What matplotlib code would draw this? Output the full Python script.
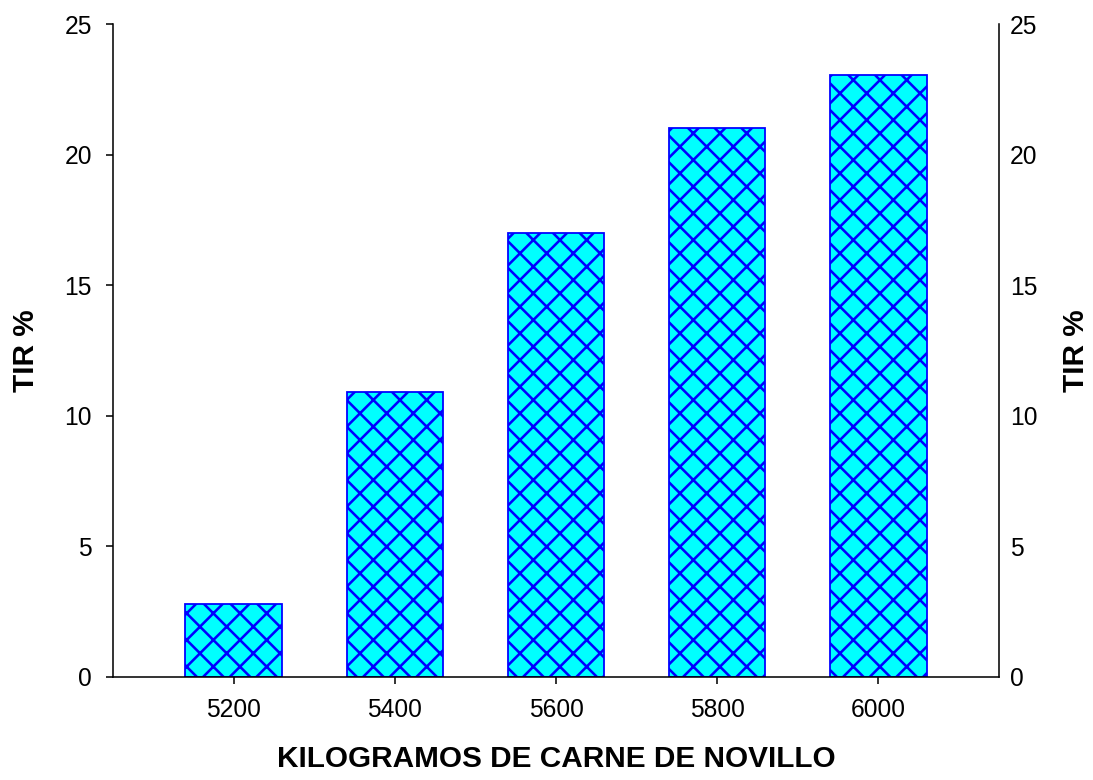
import matplotlib
matplotlib.use("Agg")
import matplotlib.pyplot as plt

# Data
categories = [5200, 5400, 5600, 5800, 6000]
tir_values = [2.8, 10.9, 17.0, 21.0, 23.05]
y_ticks = [0, 5, 10, 15, 20, 25]
x_label = "KILOGRAMOS DE CARNE DE NOVILLO"
y_label = "TIR %"

DPI = 160
plt.rcParams['font.family'] = ['Liberation Sans', 'DejaVu Sans']
plt.rcParams['hatch.linewidth'] = 1.15
plt.rcParams['hatch.color'] = '#0000ff'

fig = plt.figure(figsize=(1093 / DPI, 780 / DPI), dpi=DPI)
ax = fig.add_axes([113 / 1093, 1 - 677 / 780, 886 / 1093, 653 / 780])

ax.bar(categories, tir_values, width=120, color='#00ffff', edgecolor='#0000ff',
       linewidth=0.8, hatch='xx', zorder=2)

ax.set_xlim(5050, 6150)
ax.set_ylim(0, 25)
ax.set_xticks(categories)
ax.set_xticklabels([str(c) for c in categories])
ax.set_yticks(y_ticks)
ax.spines['top'].set_visible(False)
ax.spines['right'].set_visible(False)
for s in ['left', 'bottom']:
    ax.spines[s].set_linewidth(0.7)
ax.tick_params(axis='both', direction='out', length=3.2, width=0.7,
               labelsize=11.1, pad=6.3, colors='black')
ax.set_xlabel(x_label, fontsize=13.4, fontweight='bold', labelpad=10.4)
ax.set_ylabel(y_label, fontsize=13.4, fontweight='bold', labelpad=11)

ax2 = ax.twinx()
ax2.set_ylim(0, 25)
ax2.set_yticks(y_ticks)
for s in ['top', 'left', 'bottom']:
    ax2.spines[s].set_visible(False)
ax2.spines['right'].set_linewidth(0.7)
ax2.tick_params(axis='y', length=0, labelsize=11.1, pad=5)
ax2.set_ylabel(y_label, fontsize=13.4, fontweight='bold', labelpad=11, rotation=90)

fig.savefig("out.png", dpi=DPI)
